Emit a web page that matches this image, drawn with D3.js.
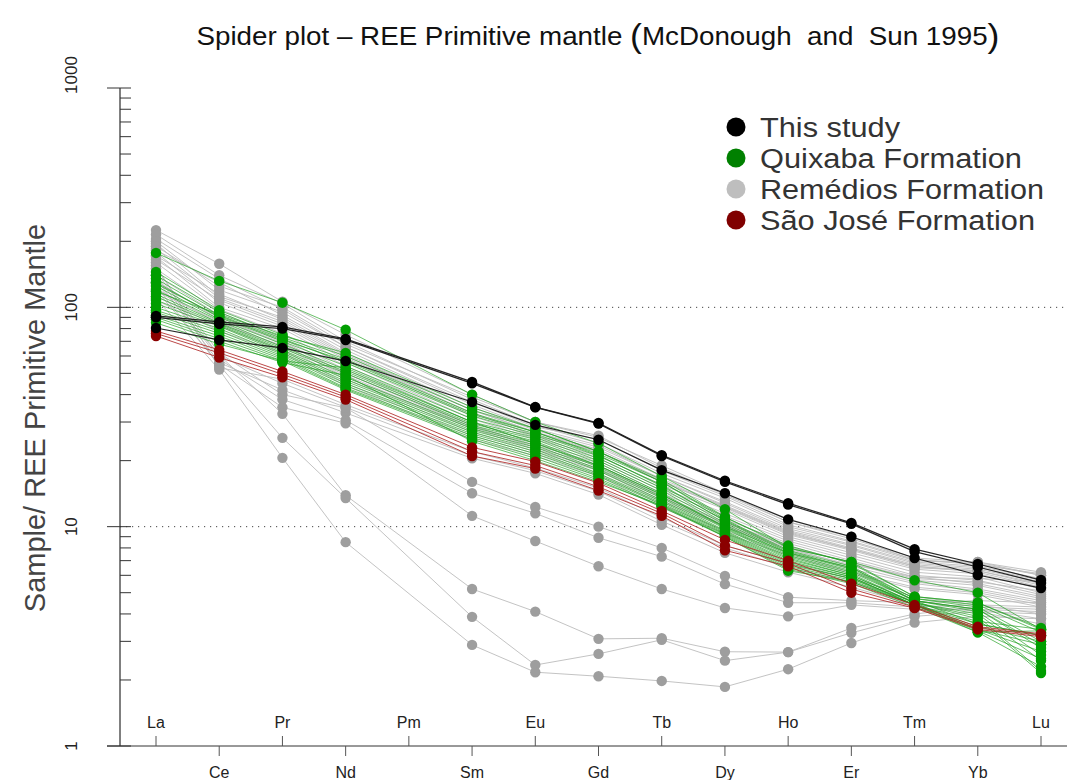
<!DOCTYPE html>
<html>
<head>
<meta charset="utf-8">
<script src="https://cdn.jsdelivr.net/npm/d3@7"></script>
<style>
  body { margin: 0; background: #fff; }
  svg { display: block; font-family: "Liberation Sans", Arial, sans-serif; }
</style>
</head>
<body>
<svg id="chart" width="1067" height="780"></svg>
<script>
// REE in order of atomic number; Pm is not analysed (null), lines skip it
const elements = ["La","Ce","Pr","Nd","Pm","Sm","Eu","Gd","Tb","Dy","Ho","Er","Tm","Yb","Lu"];
const yTicks = [1, 10, 100, 1000];
const gridValues = [10, 100];
const groupNames = ["This study", "Quixaba Formation", "Remédios Formation", "São José Formation"];

// Sample / primitive mantle, one row per sample: La Ce Pr Nd Pm Sm Eu Gd Tb Dy Ho Er Tm Yb Lu
const remedios = [
  [225,158,106,75,null,40,30,26,18.5,14,10.5,8.8,7.2,6.9,6.2],
  [215,140,104,70,null,38,29,24,17.5,13.5,10,8.5,7.0,6.8,6.0],
  [205,135,98,66,null,36,28,23.5,17,13,9.8,8.3,6.9,6.6,5.8],
  [195,112,90,62,null,34,27,22.5,16.5,12.5,9.5,8.0,6.7,6.4,5.6],
  [185,110,86,60,null,33,26,22,16,12.2,9.2,7.8,6.5,6.3,5.4],
  [178,105,82,58,null,32,25.5,21,15.5,12,9.0,7.6,6.4,6.1,5.2],
  [170,100,80,56,null,31,25,20.5,15,11.5,8.8,7.4,6.2,5.9,5.0],
  [160,98,76,54,null,30,24,20,14.6,11.2,8.6,7.2,6.0,5.7,4.9],
  [150,95,72,52,null,29,23.5,19.5,14.2,10.8,8.4,7.0,5.9,5.5,4.8],
  [140,92,70,50,null,28.5,23,19,13.8,10.5,8.2,6.8,5.7,5.4,4.7],
  [128,90,68,48,null,28,22.5,18.5,13.5,10.2,8.0,6.6,5.6,5.2,4.6],
  [118,86,66,47,null,27,22,18,13,10,7.8,6.4,5.5,5.1,4.5],
  [112,82,64,45,null,26,21.5,17.5,12.6,9.6,7.6,6.2,5.3,5.0,4.4],
  [108,78,62,44,null,25,21,17,12.2,9.3,7.4,6.1,5.2,4.9,4.3],
  [200,120,95,66,null,37,28.5,25,18,13.8,10.2,8.6,7.1,6.7,6.1],
  [190,125,100,68,null,39,30,25.5,19,14.2,10.5,9.0,7.0,6.9,6.0],
  [165,108,84,59,null,33,26,22,16.2,12.4,9.4,7.9,6.6,6.3,5.5],
  [182,130,92,64,null,35,27.5,23,17,12.8,9.6,8.2,6.8,6.5,5.7],
  [172,115,88,61,null,34,27,22,16,12.3,9.3,7.9,6.6,6.2,5.3],
  [132,88,69,50,null,29,23,19,13.6,10.4,8.1,6.9,5.8,5.6,5.1],
  [122,84,67,49,null,28,22.5,18.2,13.2,10.1,7.9,6.7,5.9,5.8,5.6],
  [145,60,45,35,null,21,18,14.5,10.6,8.0,6.5,5.6,4.6,4.2,3.8],
  [135,56,42,33,null,20.5,17.5,14,10.2,7.6,6.2,5.3,4.4,4.1,3.6],
  [155,53,47,36,null,22,18.5,15,11,8.2,6.8,5.8,4.8,4.4,4.0],
  [150,62,40,34.8,null,16,12.3,10,8,5.96,4.77,4.6,4.5,4.6,4.5],
  [140,58,38,30.6,null,14.2,11.5,8.9,7.3,5.47,4.5,4.5,4.3,4.4,4.3],
  [120,55,35,29.6,null,11.2,8.6,6.6,5.2,4.26,3.9,4.4,4.2,4.2,4.1],
  [130,60.5,32.7,13.9,null,5.2,4.1,3.08,3.1,2.69,2.68,3.45,4.0,4.3,4.2],
  [125,54.5,25.4,13.5,null,3.88,2.34,2.63,3.05,2.45,2.68,3.28,3.9,4.1,4.0],
  [110,52,20.6,8.5,null,2.89,2.17,2.08,1.98,1.86,2.24,2.95,3.65,3.9,3.8]
];

const quixaba = [
  [177,132,105,79,null,40,30,24,17,12,8.0,6.9,5.7,5.0,3.4],
  [145,97,75,60,null,34,28,22,16.4,11.1,8.0,6.9,4.8,4.5,3.45],
  [140,95,73,58,null,33,27,21.5,16,10.8,7.8,6.6,4.7,4.4,3.3],
  [135,92,72,56,null,32,26.5,21,15.5,10.6,7.6,6.5,4.7,4.3,3.0],
  [130,90,70,54,null,31,26,20.5,15,10.4,7.5,6.3,4.6,4.2,2.8],
  [125,88,68,52,null,30,25.5,20,14.6,10.2,7.4,6.2,4.6,4.1,2.6],
  [120,87,66,51,null,29.5,25,19.5,14.2,10,7.3,6.1,4.5,4.0,2.45],
  [115,85,65,50,null,29,24.5,19,14,9.9,7.2,6.0,4.5,3.9,2.2],
  [112,84,64,48,null,28.5,24,18.7,13.7,9.8,7.1,6.0,4.5,3.8,2.15],
  [108,83,63,47,null,28,23.5,18.3,13.5,9.6,7.0,5.9,4.4,3.7,3.4],
  [104,82,62,46,null,27.5,23,18,13.2,9.5,6.9,5.9,4.4,3.6,3.2],
  [100,80,61,45,null,27,22.5,17.5,13,9.4,6.8,5.8,4.4,3.5,3.0],
  [97,78,60,44,null,26.5,22,17.2,12.8,9.3,6.7,5.8,4.5,3.4,2.9],
  [95,76,59,43,null,26,21.5,17,12.6,9.2,6.6,5.7,4.4,3.4,2.7],
  [92,74,58,42.5,null,25.5,21,16.6,12.4,9.1,6.5,5.6,4.4,3.35,2.5],
  [90,72,57,42,null,25,20.5,16.3,12.3,9.0,6.4,5.5,4.3,3.3,2.3],
  [88,70,56,49,null,24.5,20,16,12.5,9.0,6.3,5.6,4.4,3.3,3.35],
  [85,68,57,53,null,30,24,19,14,10,7.6,6.4,4.6,3.6,3.2],
  [118,93,74,62,null,35,28,22,16,11,8.2,6.8,4.8,4.5,3.4],
  [128,91,71,57,null,32.5,27,21.2,15.3,10.7,7.7,6.5,4.6,4.2,2.9]
];

const saoJose = [
  [78,64,51,40,null,23,19.8,15.8,11.8,8.7,7.0,5.5,4.4,3.5,3.25],
  [76,62,49.5,39,null,22,19,15.2,11.5,8.2,6.8,5.2,4.3,3.45,3.2],
  [74,59,48,38,null,21,18.4,14.6,11.2,7.8,6.6,5.0,4.25,3.4,3.15]
];

const thisStudy = [
  [91.4,85.8,81.4,71.8,null,45.7,35.1,29.7,21.2,16.2,12.8,10.4,7.9,6.76,5.71],
  [90,84,80,71,null,45,35,29.5,21,16,12.6,10.3,7.7,6.55,5.54],
  [80.5,71,65.3,56.9,null,37,29.1,24.9,18.1,14.2,10.8,9.0,7.2,6.02,5.25]
];

// drawn bottom to top
const groups = [
  { rows: remedios,  line: "#bdbdbd", lineOpacity: 0.9,  lineWidth: 1,   point: "#9e9e9e", legend: "#bebebe", legendIndex: 2 },
  { rows: quixaba,   line: "#1f9f1f", lineOpacity: 0.75, lineWidth: 0.9, point: "#009e00", legend: "#008000", legendIndex: 1 },
  { rows: saoJose,   line: "#b02828", lineOpacity: 0.85, lineWidth: 1,   point: "#8b0000", legend: "#800000", legendIndex: 3 },
  { rows: thisStudy, line: "#1a1a1a", lineOpacity: 0.95, lineWidth: 1.2, point: "#000000", legend: "#000000", legendIndex: 0 }
];

const svg = d3.select("#chart");
const W = 1067;

const x = d3.scalePoint().domain(elements).range([156, 1041]);
const y = d3.scaleLog().domain([1, 1000]).range([746, 88]);

const axisX = 120;

// dotted reference lines
svg.append("g").selectAll("line").data(gridValues).join("line")
  .attr("x1", axisX).attr("x2", W)
  .attr("y1", d => y(d)).attr("y2", d => y(d))
  .attr("stroke", "#444").attr("stroke-width", 1)
  .attr("stroke-dasharray", "1.2,4.8");

// y axis
const yAxis = svg.append("g");
yAxis.append("line").attr("x1", axisX).attr("x2", axisX)
  .attr("y1", y(1000)).attr("y2", y(1)).attr("stroke", "#000").attr("stroke-width", 1);
const minorTicks = [];
[1, 10, 100].forEach(dec => { for (let k = 2; k <= 9; k++) minorTicks.push(dec * k); });
yAxis.selectAll("line.minor").data(minorTicks).join("line").attr("class", "minor")
  .attr("x1", axisX).attr("x2", axisX + 11)
  .attr("y1", d => y(d)).attr("y2", d => y(d))
  .attr("stroke", "#333").attr("stroke-width", 1);
yAxis.selectAll("line.major").data(yTicks).join("line").attr("class", "major")
  .attr("x1", axisX - 13).attr("x2", axisX + 11)
  .attr("y1", d => y(d)).attr("y2", d => y(d))
  .attr("stroke", "#333").attr("stroke-width", 1);
yAxis.selectAll("text").data(yTicks).join("text")
  .attr("transform", d => `translate(77,${d === 1000 ? y(d) - 13 : y(d)}) rotate(-90)`)
  .attr("text-anchor", "middle")
  .attr("font-size", 17).attr("fill", "#222")
  .text(d => d);

// x axis
const xAxis = svg.append("g");
xAxis.append("line").attr("x1", axisX - 13).attr("x2", W)
  .attr("y1", y(1)).attr("y2", y(1)).attr("stroke", "#333").attr("stroke-width", 1);
xAxis.selectAll("line.tick").data(elements).join("line").attr("class", "tick")
  .attr("x1", d => x(d)).attr("x2", d => x(d))
  .attr("y1", y(1))
  .attr("y2", (d, i) => i % 2 === 0 ? y(1) - 10 : y(1) + 10)
  .attr("stroke", "#555").attr("stroke-width", 1);
xAxis.selectAll("text").data(elements).join("text")
  .attr("x", d => x(d))
  .attr("y", (d, i) => i % 2 === 0 ? y(1) - 18 : y(1) + 32)
  .attr("text-anchor", "middle")
  .attr("font-size", 16).attr("fill", "#222")
  .text(d => d);

// sample patterns
const lineGen = d3.line()
  .x(d => x(d.el))
  .y(d => y(d.v));

groups.forEach(g => {
  const layer = svg.append("g");
  const series = g.rows.map(r => r.map((v, i) => ({ el: elements[i], v })).filter(p => p.v != null));
  layer.selectAll("path").data(series).join("path")
    .attr("d", lineGen)
    .attr("fill", "none")
    .attr("stroke", g.line)
    .attr("stroke-opacity", g.lineOpacity)
    .attr("stroke-width", g.lineWidth);
  layer.selectAll("circle").data(series.flat()).join("circle")
    .attr("cx", p => x(p.el)).attr("cy", p => y(p.v))
    .attr("r", 5.2)
    .attr("fill", g.point);
});

// legend
const legendOrder = groups.slice().sort((a, b) => a.legendIndex - b.legendIndex);
const legendStep = 31;
const legend = svg.append("g");
legend.selectAll("circle").data(legendOrder).join("circle")
  .attr("cx", 736).attr("cy", (d, i) => 127 + i * legendStep)
  .attr("r", 9.5).attr("fill", d => d.legend);
legend.selectAll("text").data(legendOrder).join("text")
  .attr("x", 760).attr("y", (d, i) => 136.5 + i * legendStep)
  .attr("font-size", 27).attr("fill", "#333")
  .attr("textLength", d => [140, 262, 284, 275][d.legendIndex])
  .attr("lengthAdjust", "spacingAndGlyphs")
  .text(d => groupNames[d.legendIndex]);

// title
const title = svg.append("text")
  .attr("x", 598).attr("y", 45)
  .attr("text-anchor", "middle")
  .attr("font-size", 26.5).attr("fill", "#111")
  .attr("textLength", 803).attr("lengthAdjust", "spacingAndGlyphs");
title.append("tspan").text("Spider plot \u2013 REE Primitive mantle ");
title.append("tspan").attr("font-size", 34).attr("dy", 2).text("(");
title.append("tspan").attr("dy", -2).text("McDonough\u00a0 and\u00a0 Sun 1995");
title.append("tspan").attr("font-size", 34).attr("dy", 2).text(")");

// y axis title
svg.append("text")
  .attr("transform", "translate(45,418) rotate(-90)")
  .attr("text-anchor", "middle")
  .attr("font-size", 29).attr("fill", "#444")
  .text("Sample/ REE Primitive Mantle");
</script>
</body>
</html>
